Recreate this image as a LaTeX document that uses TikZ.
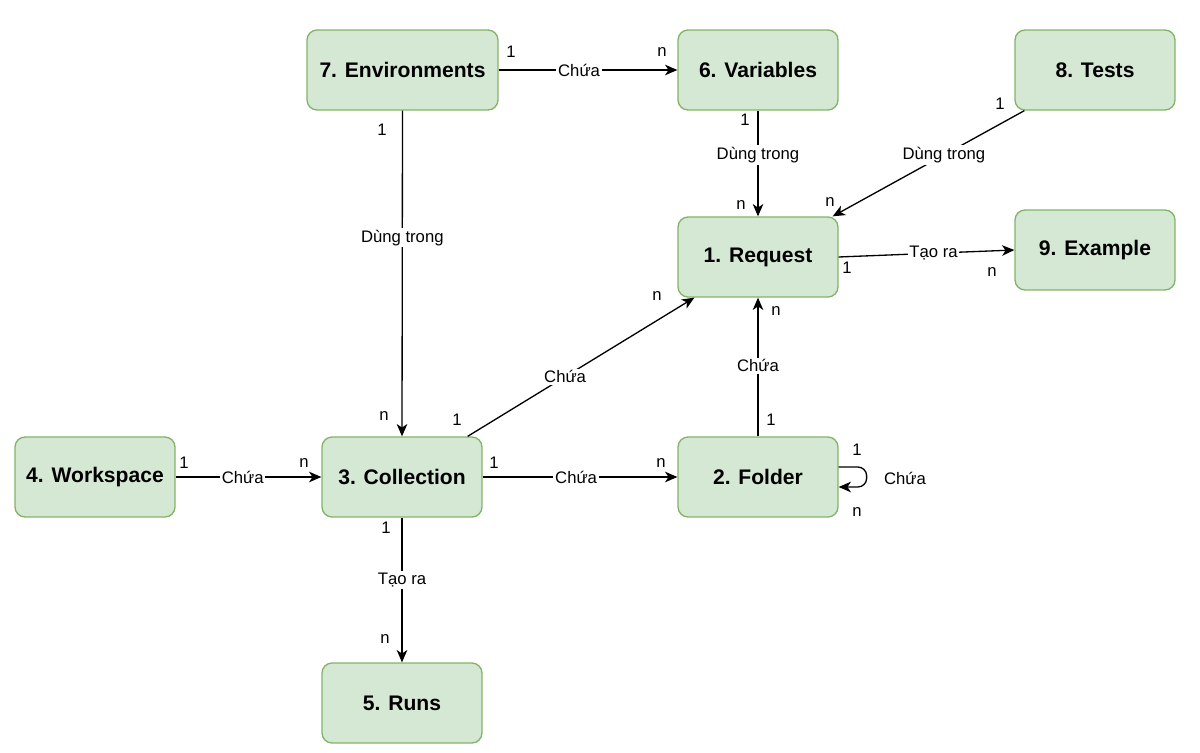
\documentclass[tikz,border=0pt]{standalone}
\usepackage{fontspec}
\setmainfont{Liberation Sans}
\usetikzlibrary{arrows.meta}
\definecolor{boxfill}{HTML}{D5E8D4}
\definecolor{boxline}{HTML}{82B366}
\tikzstyle{entity}=[draw=boxline,fill=boxfill,rounded corners=0.2cm,line width=0.75pt,minimum width=3.2cm,minimum height=1.6cm,font=\fontsize{12}{14}\selectfont\bfseries]
\tikzstyle{rel}=[fill=white,inner sep=1pt,font=\fontsize{9.5}{11}\selectfont]
\tikzstyle{card}=[inner sep=1pt,font=\fontsize{9.5}{11}\selectfont]
\tikzstyle{link}=[line width=0.75pt,-{Stealth[length=7pt,width=6pt,inset=2pt]}]
\begin{document}
\begin{tikzpicture}[x=0.02cm,y=-0.02cm]
\useasboundingbox (0,0) rectangle (1200,753);
\node[entity,minimum width=3.82cm] (env) at (402.5,70) {7. Environments};
\node[entity] (var) at (758,70) {6. Variables};
\node[entity] (tests) at (1095,70) {8. Tests};
\node[entity] (req) at (758,257) {1. Request};
\node[entity] (ex) at (1095,250) {9. Example};
\node[entity] (ws) at (95,477) {4. Workspace};
\node[entity] (coll) at (402,477) {3. Collection};
\node[entity] (fold) at (758,477) {2. Folder};
\node[entity] (runs) at (402,703) {5. Runs};
\draw[link] (env.east) -- (var.west) node[rel,pos=0.45] (r1) {Chứa};
\draw[link] (env.south) -- (coll.north) node[rel,pos=0.39] (r2) {Dùng trong};
\draw[link] (var.south) -- (req.north) node[rel,pos=0.42] (r3) {Dùng trong};
\draw[link] ([xshift=0.2cm]tests.south west) -- ([xshift=-0.12cm]req.north east) node[rel,pos=0.42] (r4) {Dùng trong};
\draw[link] (req.east) -- (ex.west) node[rel,pos=0.54] (r5) {Tạo ra};
\draw[link] ([xshift=-0.3cm]coll.north east) -- ([xshift=0.34cm]req.south west) node[rel,pos=0.43] (r6) {Chứa};
\draw[link] (fold.north) -- (req.south) node[rel,pos=0.51] (r7) {Chứa};
\draw[link] (ws.east) -- (coll.west) node[rel,pos=0.46] (r8) {Chứa};
\draw[link] (coll.east) -- (fold.west) node[rel,pos=0.48] (r9) {Chứa};
\draw[link,rounded corners=5pt] ([yshift=0.2cm]fold.east) -- ++(28,0) -- ++(0,20) -- ([yshift=-0.2cm]fold.east);
\draw[link] (coll.south) -- (runs.north) node[rel,pos=0.43] (r10) {Tạo ra};
\node[card] (loop) at (905,478) {Chứa};
% cardinalities
\node[card] (c1) at (511,52) {1};
\node[card] (c2) at (662,52) {n};
\node[card] (c3) at (382,130) {1};
\node[card] (c4) at (384,416) {n};
\node[card] (c5) at (745,120) {1};
\node[card] (c6) at (741,205) {n};
\node[card] (c7) at (1000,104) {1};
\node[card] (c8) at (830,202) {n};
\node[card] (c9) at (847,268) {1};
\node[card] (c10) at (992,272) {n};
\node[card] (c11) at (457,420) {1};
\node[card] (c12) at (657,296) {n};
\node[card] (c13) at (771,420) {1};
\node[card] (c14) at (776,311) {n};
\node[card] (c15) at (184,463) {1};
\node[card] (c16) at (304,463) {n};
\node[card] (c17) at (494,463) {1};
\node[card] (c18) at (661,463) {n};
\node[card] (c19) at (857,450) {1};
\node[card] (c20) at (857,512) {n};
\node[card] (c21) at (386,528) {1};
\node[card] (c22) at (385,639) {n};
\end{tikzpicture}
\end{document}
